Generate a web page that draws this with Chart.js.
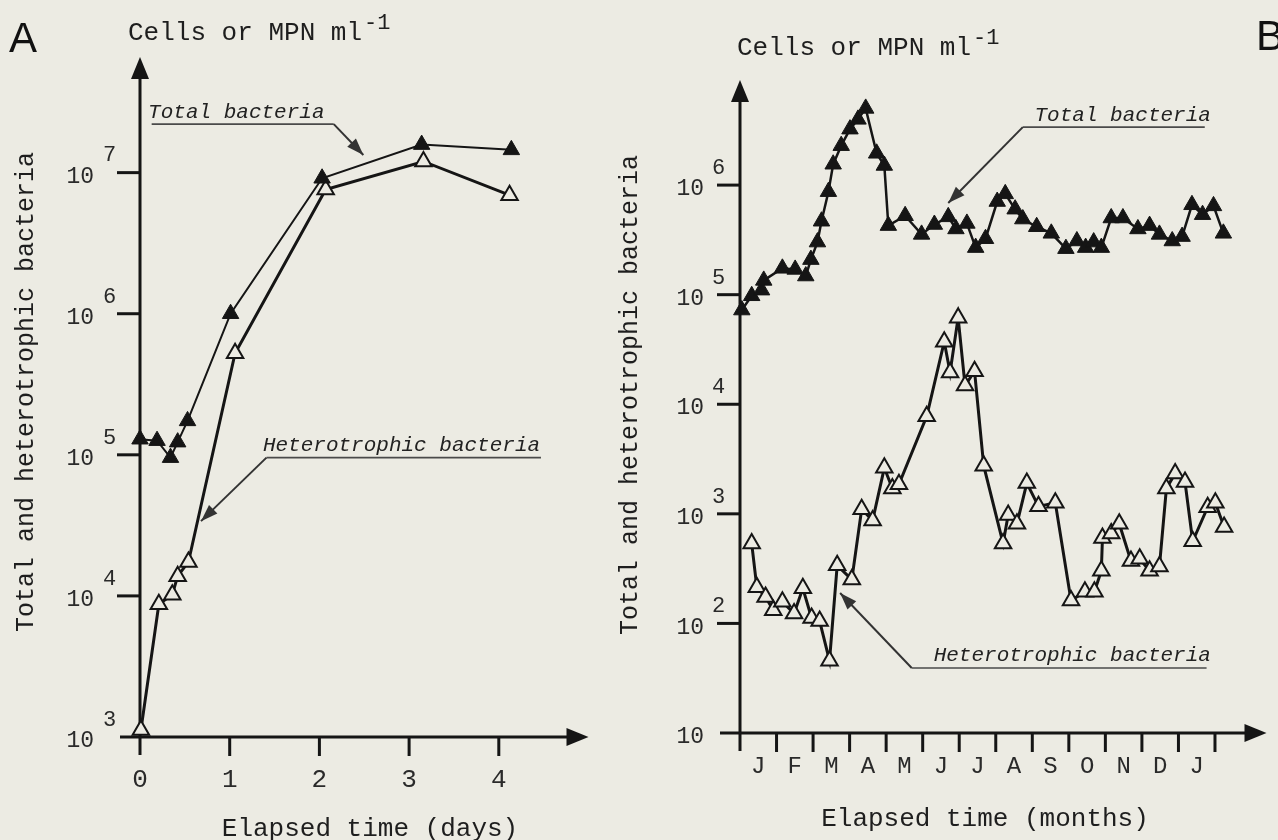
<!DOCTYPE html>
<html>
<head>
<meta charset="utf-8">
<script src="https://cdn.jsdelivr.net/npm/chart.js@4.4.0/dist/chart.umd.min.js"></script>
<style>
  html, body { margin: 0; padding: 0; background: #ecebe3; }
  #wrap { position: relative; width: 1278px; height: 840px; overflow: hidden; background: #ecebe3; }
  canvas { position: absolute; top: 0; }
  #chartA { left: 0; }
  #chartB { left: 600px; }
</style>
</head>
<body>
<div id="wrap">
  <canvas id="chartA" width="600" height="840"></canvas>
  <canvas id="chartB" width="678" height="840"></canvas>
</div>
<script>
// --------------- Data: panel A (days) ---------------
const daysTotalA  = [0, 0.19, 0.34, 0.42, 0.53, 1.01, 2.03, 3.14, 4.14];
const totalA      = [1.29e5, 1.26e5, 9.55e4, 1.23e5, 1.74e5, 1.00e6, 9.12e6, 1.58e7, 1.45e7];
const daysHeteroA = [0.01, 0.21, 0.36, 0.42, 0.54, 1.06, 2.07, 3.16, 4.12];
const heteroA     = [1.12e3, 8.71e3, 1.02e4, 1.38e4, 1.74e4, 5.25e5, 7.59e6, 1.20e7, 6.92e6];
const dayTicks    = [0, 1, 2, 3, 4];
const expTicksA   = [3, 4, 5, 6, 7];

// --------------- Data: panel B (months) ---------------
const monthsTotalB = [0.05, 0.32, 0.59, 0.65, 1.16, 1.51, 1.80, 1.94, 2.12, 2.23,
  2.42, 2.55, 2.77, 3.01, 3.23, 3.44, 3.74, 3.95, 4.06, 4.52,
  4.97, 5.32, 5.70, 5.91, 6.21, 6.45, 6.72, 7.04, 7.26, 7.53,
  7.74, 8.12, 8.52, 8.92, 9.22, 9.46, 9.68, 9.89, 10.16, 10.48,
  10.89, 11.21, 11.48, 11.83, 12.10, 12.37, 12.66, 12.96, 13.23];
const totalB = [7.24e4, 9.77e4, 1.10e5, 1.35e5, 1.74e5, 1.70e5, 1.48e5, 2.09e5, 3.02e5, 4.68e5,
  8.71e5, 1.55e6, 2.29e6, 3.24e6, 3.98e6, 5.01e6, 1.95e6, 1.51e6, 4.27e5, 5.25e5,
  3.55e5, 4.37e5, 5.13e5, 3.98e5, 4.47e5, 2.69e5, 3.24e5, 7.08e5, 8.32e5, 6.03e5,
  4.90e5, 4.17e5, 3.63e5, 2.63e5, 3.09e5, 2.69e5, 3.02e5, 2.69e5, 5.01e5, 5.01e5,
  3.98e5, 4.27e5, 3.55e5, 3.09e5, 3.39e5, 6.61e5, 5.37e5, 6.46e5, 3.63e5];
const monthsHeteroB = [0.32, 0.46, 0.70, 0.91, 1.16, 1.48, 1.72, 1.96, 2.18, 2.45,
  2.66, 3.06, 3.33, 3.63, 3.95, 4.17, 4.35, 5.11, 5.59, 5.75,
  5.97, 6.16, 6.42, 6.67, 7.20, 7.34, 7.58, 7.85, 8.17, 8.63,
  9.06, 9.44, 9.70, 9.89, 9.92, 10.16, 10.38, 10.70, 10.94, 11.21,
  11.48, 11.67, 11.91, 12.18, 12.39, 12.80, 13.01, 13.25];
const heteroB = [537, 214, 174, 132, 158, 123, 209, 112, 105, 45.7,
  339, 251, 1.10e3, 871, 2.63e3, 1.70e3, 1.86e3, 7.76e3, 3.72e4, 1.95e4,
  6.17e4, 1.48e4, 2.00e4, 2.75e3, 537, 977, 813, 1.91e3, 1.17e3, 1.26e3,
  162, 195, 195, 302, 603, 661, 813, 372, 389, 302,
  331, 1.70e3, 2.34e3, 1.95e3, 562, 1.15e3, 1.26e3, 759];
const monthLabels = ["J", "F", "M", "A", "M", "J", "J", "A", "S", "O", "N", "D", "J"];
const expTicksB   = [1, 2, 3, 4, 5, 6];

// --------------- Styles ---------------
const PAPER = "#ecebe3";
const INK = "#151515";
const MONO = "'Liberation Mono', 'DejaVu Sans Mono', monospace";

// Helper: zip x and y arrays into points
function zip(xs, ys) {
  return xs.map((x, i) => ({ x: x, y: ys[i] }));
}

// Filled arrow head pointing at (tx, ty) coming from (fx, fy)
function arrowHead(ctx, tx, ty, fx, fy, len, half) {
  const a = Math.atan2(ty - fy, tx - fx);
  const c = Math.cos(a), s = Math.sin(a);
  ctx.beginPath();
  ctx.moveTo(tx, ty);
  ctx.lineTo(tx - len * c + half * s, ty - len * s - half * c);
  ctx.lineTo(tx - len * c - half * s, ty - len * s + half * c);
  ctx.closePath();
  ctx.fill();
}

// --------------- Plugin: hand-drawn looking axes, labels, annotations ---------------
const paperPlugin = {
  id: "paper",
  beforeDatasetsDraw(chart, args, o) {
    const { ctx, chartArea: ca, scales: { x, y } } = chart;
    ctx.save();
    ctx.strokeStyle = INK;
    ctx.fillStyle = INK;
    ctx.lineWidth = 3;

    // y axis with arrow
    ctx.beginPath();
    ctx.moveTo(ca.left, ca.bottom + 18);
    ctx.lineTo(ca.left, ca.top + 18);
    ctx.stroke();
    arrowHead(ctx, ca.left, ca.top, ca.left, ca.top + 40, 22, 9);

    // x axis with arrow
    ctx.beginPath();
    ctx.moveTo(ca.left - 20, ca.bottom);
    ctx.lineTo(ca.right - 18, ca.bottom);
    ctx.stroke();
    arrowHead(ctx, ca.right, ca.bottom, ca.right - 40, ca.bottom, 22, 9);

    // y decade ticks and "10^n" labels
    o.exps.forEach((e, i) => {
      const py = y.getPixelForValue(Math.pow(10, e));
      if (i > 0) {
        ctx.beginPath();
        ctx.moveTo(ca.left - 23, py);
        ctx.lineTo(ca.left, py);
        ctx.stroke();
      }
      ctx.fillStyle = "#2a2a2a";
      ctx.font = "23px " + MONO;
      ctx.textAlign = "right";
      ctx.textBaseline = "middle";
      ctx.fillText("10", ca.left - o.tenGap, py + 4);
      if (!(o.plainFirst && i === 0)) {
        ctx.font = "22px " + MONO;
        ctx.textAlign = "left";
        ctx.fillText(String(e), ca.left - o.expGap, py - 17);
      }
      ctx.fillStyle = INK;
    });

    // x ticks (below axis)
    o.xTicks.forEach(v => {
      if (v === 0) return;
      const px = x.getPixelForValue(v);
      ctx.beginPath();
      ctx.moveTo(px, ca.bottom);
      ctx.lineTo(px, ca.bottom + 19);
      ctx.stroke();
    });

    // x tick labels
    ctx.fillStyle = "#2a2a2a";
    ctx.font = o.xFont + " " + MONO;
    ctx.textAlign = "center";
    ctx.textBaseline = "middle";
    o.xLabels.forEach((t, i) => {
      ctx.fillText(t, x.getPixelForValue(o.xLabelPos[i]), o.xLabelY);
    });
    ctx.restore();
  },
  afterDraw(chart, args, o) {
    const { ctx, scales: { x, y } } = chart;
    ctx.save();

    // annotation labels with underline and arrow
    o.notes.forEach(n => {
      const tx = x.getPixelForValue(n.textX);
      const ty = y.getPixelForValue(Math.pow(10, n.textY));
      const lx0 = x.getPixelForValue(n.lineX0);
      const lx1 = x.getPixelForValue(n.lineX1);
      const ly = y.getPixelForValue(Math.pow(10, n.lineY));
      const px = x.getPixelForValue(n.tipX);
      const py = y.getPixelForValue(Math.pow(10, n.tipY));
      const sx = n.from === "end" ? lx1 : lx0;

      ctx.fillStyle = "#222";
      ctx.font = "italic 21px " + MONO;
      ctx.textAlign = "left";
      ctx.textBaseline = "alphabetic";
      ctx.fillText(n.text, tx, ty);

      ctx.strokeStyle = "#4a4a4a";
      ctx.lineWidth = 1.6;
      ctx.beginPath();
      ctx.moveTo(lx0, ly);
      ctx.lineTo(lx1, ly);
      ctx.stroke();

      ctx.strokeStyle = "#333";
      ctx.lineWidth = 2;
      ctx.beginPath();
      ctx.moveTo(sx, ly);
      ctx.lineTo(px, py);
      ctx.stroke();
      ctx.fillStyle = "#333";
      arrowHead(ctx, px, py, sx, ly, 17, 6);
    });

    // titles
    ctx.fillStyle = "#1e1e1e";
    ctx.textBaseline = "alphabetic";
    ctx.font = "26px " + MONO;
    ctx.textAlign = "left";
    ctx.fillText("Cells or MPN ml", o.unit[0], o.unit[1]);
    const w = ctx.measureText("Cells or MPN ml").width;
    ctx.font = "22px " + MONO;
    ctx.fillText("-1", o.unit[0] + w + 2, o.unit[1] - 11);

    ctx.font = "26px " + MONO;
    ctx.textAlign = "center";
    ctx.fillText(o.xTitle, o.xTitlePos[0], o.xTitlePos[1]);

    ctx.save();
    ctx.translate(o.yTitlePos[0], o.yTitlePos[1]);
    ctx.rotate(-Math.PI / 2);
    ctx.font = "25px " + MONO;
    ctx.textAlign = "center";
    ctx.textBaseline = "middle";
    ctx.fillText("Total and heterotrophic bacteria", 0, 0);
    ctx.restore();

    ctx.font = "42px 'Liberation Sans', Arial, sans-serif";
    ctx.textAlign = "left";
    ctx.textBaseline = "alphabetic";
    ctx.fillStyle = "#111";
    ctx.fillText(o.letter, o.letterPos[0], o.letterPos[1]);
    ctx.restore();
  }
};

function seriesStyle(filled, width) {
  return {
    borderColor: INK,
    borderWidth: width,
    backgroundColor: filled ? INK : PAPER,
    pointBackgroundColor: filled ? INK : PAPER,
    pointBorderColor: INK,
    pointBorderWidth: filled ? 1 : 2,
    pointStyle: "triangle",
    pointRadius: 9.5,
    tension: 0,
    clip: false
  };
}

function makeChart(id, datasets, xMax, yMin, yMax, pad, paperOpts) {
  return new Chart(document.getElementById(id), {
    type: "line",
    data: { datasets: datasets },
    options: {
      responsive: false,
      animation: false,
      devicePixelRatio: 1,
      layout: { padding: pad },
      scales: {
        x: { type: "linear", min: 0, max: xMax, display: false },
        y: { type: "logarithmic", min: yMin, max: yMax, display: false }
      },
      plugins: { legend: { display: false }, tooltip: { enabled: false }, paper: paperOpts }
    },
    plugins: [paperPlugin]
  });
}

// --------------- Panel A ---------------
makeChart("chartA", [
  Object.assign({ label: "Total bacteria", data: zip(daysTotalA, totalA) }, seriesStyle(true, 2)),
  Object.assign({ label: "Heterotrophic bacteria", data: zip(daysHeteroA, heteroA) }, seriesStyle(false, 3))
], 5.0, 1e3, 6.6e7, { left: 140, right: 6, top: 57, bottom: 103 }, {
  exps: expTicksA, plainFirst: false, tenGap: 46, expGap: 37,
  xTicks: dayTicks, xLabels: dayTicks.map(String), xLabelPos: dayTicks, xLabelY: 780, xFont: "26px",
  notes: [
    { text: "Total bacteria", textX: 0.09, textY: 7.39, lineX0: 0.13, lineX1: 2.16, lineY: 7.344, tipX: 2.49, tipY: 7.125, from: "end" },
    { text: "Heterotrophic bacteria", textX: 1.37, textY: 5.03, lineX0: 1.41, lineX1: 4.47, lineY: 4.98, tipX: 0.68, tipY: 4.53, from: "start" }
  ],
  unit: [128, 40], xTitle: "Elapsed time (days)", xTitlePos: [370, 836],
  yTitlePos: [26, 392], letter: "A", letterPos: [9, 52]
});

// --------------- Panel B ---------------
makeChart("chartB", [
  Object.assign({ label: "Total bacteria", data: zip(monthsTotalB, totalB) }, seriesStyle(true, 2.5)),
  Object.assign({ label: "Heterotrophic bacteria", data: zip(monthsHeteroB, heteroB) }, seriesStyle(false, 3))
], 14.41, 10, 9.1e6, { left: 140, right: 2, top: 80, bottom: 107 }, {
  exps: expTicksB, plainFirst: true, tenGap: 36, expGap: 28,
  xTicks: monthLabels.map((m, i) => i).concat([13]), xLabels: monthLabels,
  xLabelPos: monthLabels.map((m, i) => i + 0.5), xLabelY: 767, xFont: "24px",
  notes: [
    { text: "Total bacteria", textX: 8.06, textY: 6.584, lineX0: 7.74, lineX1: 12.72, lineY: 6.529, tipX: 5.70, tipY: 5.836, from: "start" },
    { text: "Heterotrophic bacteria", textX: 5.30, textY: 1.657, lineX0: 4.70, lineX1: 12.77, lineY: 1.593, tipX: 2.74, tipY: 2.277, from: "start" }
  ],
  unit: [137, 55], xTitle: "Elapsed time (months)", xTitlePos: [385, 826],
  yTitlePos: [30, 395], letter: "B", letterPos: [656, 50]
});
</script>
</body>
</html>
